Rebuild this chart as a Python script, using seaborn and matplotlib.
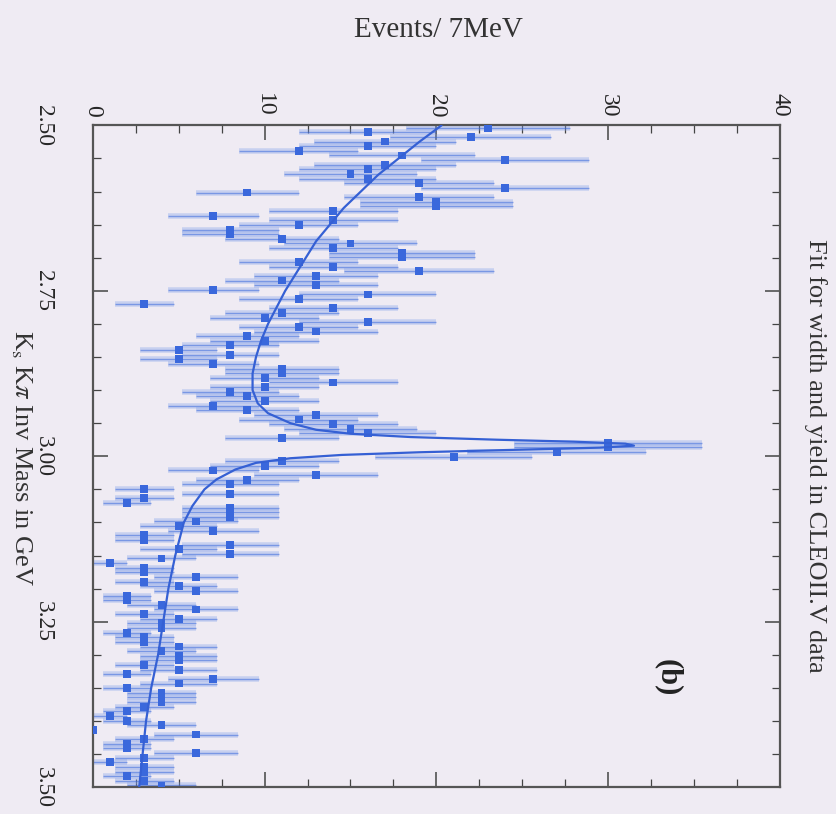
import numpy as np
import pandas as pd
import matplotlib
matplotlib.use("Agg")
import matplotlib.pyplot as plt
import seaborn as sns
from matplotlib.ticker import MultipleLocator

# counts per 7 MeV bin, starting at 2.50 GeV
bin_width = 0.007
mass_start = 2.50
counts = [
    23, 16, 22, 17, 16, 12, 18, 24, 17, 16,
    15, 16, 19, 24, 9, 19, 20, 20, 14, 7,
    14, 12, 8, 8, 11, 15, 14, 18, 18, 12,
    14, 19, 13, 11, 13, 7, 16, 12, 3, 14,
    11, 10, 16, 12, 13, 9, 10, 8, 5, 8,
    5, 7, 11, 11, 10, 14, 10, 8, 9, 10,
    7, 9, 13, 12, 14, 15, 16, 11, 30, 30,
    27, 21, 11, 10, 7, 13, 9, 8, 3, 8,
    3, 2, 8, 8, 8, 6, 5, 7, 3, 3,
    8, 5, 8, 4, 1, 3, 3, 6, 3, 5,
    6, 2, 2, 4, 6, 3, 5, 4, 4, 2,
    3, 3, 5, 4, 5, 5, 3, 5, 2, 7,
    5, 2, 4, 4, 4, 3, 2, 1, 2, 4,
    0, 6, 3, 2, 2, 6, 3, 1, 3, 3,
    2, 3, 4,
]

# fit curve, read at a set of masses
curve_mass = [2.500, 2.525, 2.550, 2.575, 2.600, 2.625, 2.650, 2.675, 2.700,
              2.725, 2.750, 2.775, 2.800, 2.825, 2.850, 2.875, 2.900, 2.920,
              2.935, 2.950, 2.960, 2.966, 2.971, 2.975, 2.978, 2.981, 2.984,
              2.987, 2.990, 2.994, 2.998, 3.003, 3.010, 3.020, 3.035, 3.050,
              3.075, 3.100, 3.150, 3.200, 3.250, 3.300, 3.350, 3.400, 3.450,
              3.500]
curve_events = [20.3, 19.0, 17.8, 16.6, 15.6, 14.6, 13.8, 13.0, 12.4,
                11.8, 11.2, 10.7, 10.2, 9.8, 9.5, 9.3, 9.3, 9.6,
                10.2, 11.5, 13.0, 15.0, 18.5, 23.5, 28.0, 31.0, 31.5,
                29.5, 25.0, 19.0, 14.5, 11.5, 9.5, 8.3, 7.2, 6.5,
                5.8, 5.3, 4.8, 4.4, 4.1, 3.8, 3.4, 3.1, 2.9,
                2.7]

mass_ticks = [2.50, 2.75, 3.00, 3.25, 3.50]
event_ticks = [0, 10, 20, 30, 40]

bg = "#EFEBF3"
blue = "#3A68DC"

sns.set_theme(style="white")
plt.rcParams["font.family"] = ["Liberation Serif", "DejaVu Serif"]
plt.rcParams["mathtext.fontset"] = "stix"

df = pd.DataFrame({"events": counts})
df["mass"] = mass_start + bin_width * (df.index + 0.5)
df["err"] = np.sqrt(df["events"])

fig = plt.figure(figsize=(8.36, 8.14), dpi=100, facecolor=bg)
ax = fig.add_axes([0.111, 0.033, 0.822, 0.813], facecolor=bg)

# error bars: soft wide band plus a thin core
ax.errorbar(df["events"], df["mass"], xerr=df["err"], fmt="none",
            ecolor="#7F9EEA", elinewidth=4, alpha=0.35, capsize=0)
ax.errorbar(df["events"], df["mass"], xerr=df["err"], fmt="none",
            ecolor=blue, elinewidth=1, alpha=0.55, capsize=0)
sns.scatterplot(data=df, x="events", y="mass", marker="s", s=32,
                color=blue, edgecolor="none", ax=ax, zorder=3)
sns.lineplot(x=curve_events, y=curve_mass, orient="y", color="#3560D4",
             lw=1.6, ax=ax, zorder=4)

ax.set_xlim(0, 40)
ax.set_ylim(3.5, 2.5)
ax.set_xlabel("")
ax.set_ylabel("")

ax.set_xticks(event_ticks)
ax.set_xticklabels([str(t) for t in event_ticks])
ax.set_yticks(mass_ticks)
ax.set_yticklabels([f"{t:.2f}" for t in mass_ticks])
ax.xaxis.set_minor_locator(MultipleLocator(2.5))
ax.yaxis.set_minor_locator(MultipleLocator(0.05))

ax.tick_params(axis="x", which="both", direction="in", top=True, bottom=True,
               labeltop=True, labelbottom=False, color="#444444")
ax.tick_params(axis="y", which="both", direction="in", left=True, right=True,
               labelleft=True, color="#444444")
ax.tick_params(which="major", length=11, width=1.1)
ax.tick_params(which="minor", length=6, width=0.9)
ax.tick_params(axis="x", labelsize=17, labelrotation=-90, pad=6)
ax.tick_params(axis="y", labelsize=17, labelrotation=-90, pad=28)
for lab in ax.get_yticklabels():
    lab.set_va("center")

for sp in ax.spines.values():
    sp.set_color("#555555")
    sp.set_linewidth(1.6)

fig.text(0.524, 0.963, "Events/ 7MeV", ha="center", va="center",
         fontsize=21, color="#333333")
fig.text(0.975, 0.44, "Fit for width and yield in CLEOII.V data",
         ha="center", va="center", rotation=-90, fontsize=19, color="#333333")
fig.text(0.026, 0.437, r"K$_{\rm s}$ K$\pi$ Inv Mass in GeV",
         ha="center", va="center", rotation=-90, fontsize=19, color="#333333")
ax.text(33.5, 3.334, "(b)", ha="center", va="center", rotation=-90,
        fontsize=22, fontweight="bold", color="#222222")

fig.savefig("out.png", dpi=100, facecolor=bg)
